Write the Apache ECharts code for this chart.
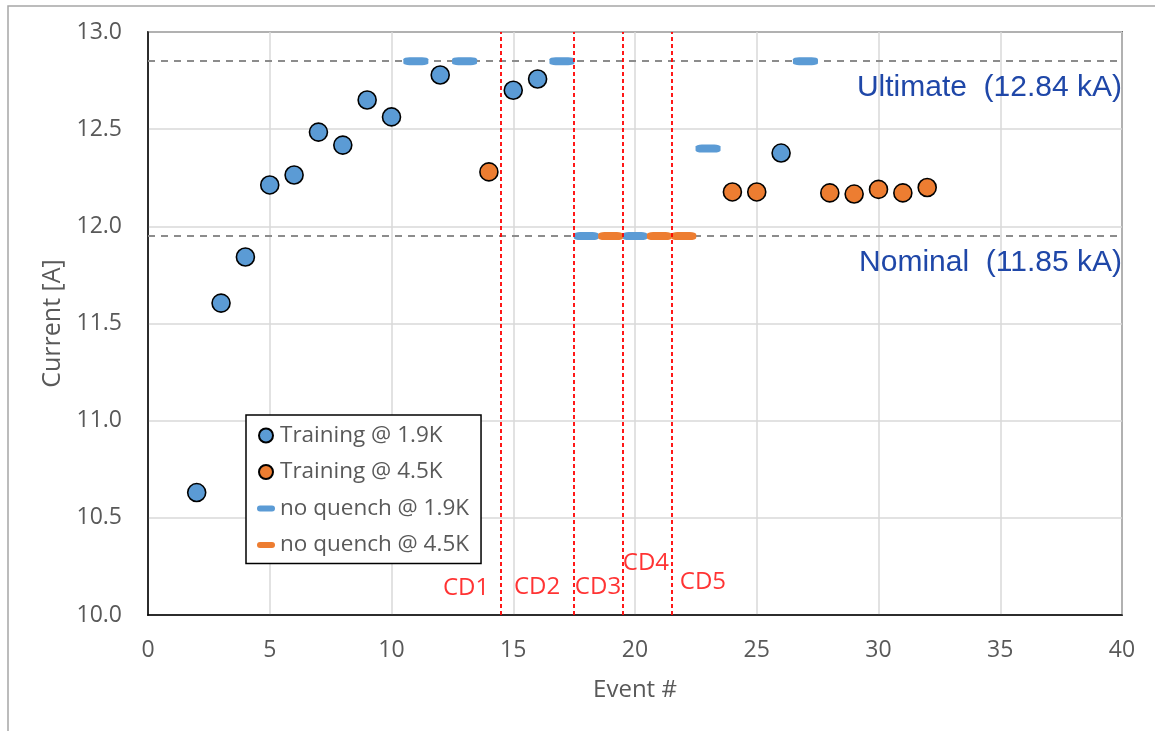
<!DOCTYPE html>
<html>
<head>
<meta charset="utf-8">
<script src="https://cdn.jsdelivr.net/npm/echarts@6/dist/echarts.min.js"></script>
<style>
html,body{margin:0;padding:0;background:#fff;}
#chart{width:1155px;height:731px;}
</style>
</head>
<body>
<div id="chart"></div>
<script>
// ---- data ----
const training19 = [[2,10.63],[3,11.605],[4,11.842],[5,12.213],[6,12.264],[7,12.485],[8,12.418],[9,12.65],[10,12.563],[12,12.779],[15,12.70],[16,12.758],[26,12.377]];
const training45 = [[14,12.28],[24,12.177],[25,12.177],[28,12.172],[29,12.166],[30,12.19],[31,12.172],[32,12.20]];
const noQuench19 = [[11,12.85],[13,12.85],[17,12.85],[18,11.95],[20,11.95],[23,12.40],[27,12.85]];
const noQuench45 = [[19,11.95],[21,11.95],[22,11.95]];
const refLines = [{name:'Ultimate (12.84 kA)', value:12.85},{name:'Nominal (11.85 kA)', value:11.95}];
const cdLines = [14.5, 17.5, 19.5, 21.5];
const cdLabels = [['CD1',13.06,10.138],['CD2',15.98,10.143],['CD3',18.48,10.143],['CD4',20.45,10.267],['CD5',22.79,10.17]];
const xTicks = {min:0, max:40, interval:5};
const yTicks = {min:10, max:13, interval:0.5};

const BLUE = '#5B9BD5', ORANGE = '#ED7D31', GRAY = '#595959';
const FONT = '"Open Sans", "Noto Sans", sans-serif';

const chart = echarts.init(document.getElementById('chart'), null, {renderer:'canvas'});
const dashIcon = 'path://M3,0 H15 A3,3 0 0 1 15,6 H3 A3,3 0 0 1 3,0 Z';

chart.setOption({
  animation:false,
  backgroundColor:'#fff',
  graphic:[{type:'rect', shape:{x:8,y:6,width:1200,height:760}, style:{fill:'none', stroke:'#a6a6a6', lineWidth:1.5}, silent:true, z:-10}],
  grid:{left:148, right:33, top:32, bottom:116, show:true, borderColor:'#000', borderWidth:1.5, backgroundColor:'transparent'},
  legend:{
    orient:'vertical', left:246, top:415,
    backgroundColor:'#fff', borderColor:'#000', borderWidth:1.5, borderRadius:0,
    padding:[9,12,7,11],
    itemWidth:18, itemHeight:14, itemGap:13.5,
    textStyle:{fontFamily:FONT, fontSize:22.5, color:GRAY, lineHeight:22},
    data:[
      {name:'Training @ 1.9K', icon:'circle'},
      {name:'Training @ 4.5K', icon:'circle'},
      {name:'no quench @ 1.9K', icon:dashIcon},
      {name:'no quench @ 4.5K', icon:dashIcon}
    ]
  },
  xAxis:{
    type:'value', min:xTicks.min, max:xTicks.max, interval:xTicks.interval,
    name:'Event #', nameLocation:'middle', nameGap:63,
    nameTextStyle:{fontFamily:FONT, fontSize:24, color:GRAY},
    axisLine:{show:true, onZero:false, lineStyle:{color:'#000', width:1.5}},
    axisTick:{show:false},
    axisLabel:{fontFamily:FONT, fontSize:23, color:GRAY, margin:24},
    splitLine:{show:true, lineStyle:{color:'#d9d9d9', width:1.5}}
  },
  yAxis:{
    type:'value', min:yTicks.min, max:yTicks.max, interval:yTicks.interval,
    name:'Current [A]', nameLocation:'middle', nameGap:77,
    nameTextStyle:{fontFamily:FONT, fontSize:25, color:GRAY},
    axisLine:{show:true, onZero:false, lineStyle:{color:'#000', width:1.5}},
    axisTick:{show:false},
    axisLabel:{fontFamily:FONT, fontSize:23, color:GRAY, margin:26, formatter:v=>v.toFixed(1)},
    splitLine:{show:true, lineStyle:{color:'#d9d9d9', width:1.5}}
  },
  series:[
    {
      name:'refs', type:'scatter', data:[], silent:true, z:1,
      markLine:{
        silent:true, symbol:'none', animation:false, z:1,
        lineStyle:{color:'#8c8c8c', type:[7,6], width:1.8},
        label:{show:true, position:'insideEndBottom', distance:[0,12], formatter:p=>p.name.replace(' (','  ('),
          fontFamily:'"Liberation Sans", Arial, sans-serif', fontSize:30, color:'#1F47A8'},
        data: refLines.map(r=>({name:r.name, yAxis:r.value}))
      }
    },
    {
      name:'cd', type:'scatter', data:[], silent:true, z:6,
      markLine:{
        silent:true, symbol:'none', animation:false, z:6,
        lineStyle:{color:'#FF0000', type:[4,3], width:1.8},
        label:{show:false},
        data: cdLines.map(v=>({xAxis:v}))
      }
    },
    {
      name:'cdlabels', type:'scatter', silent:true, symbolSize:0, z:3,
      data: cdLabels.map(d=>({name:d[0], value:[d[1],d[2]]})),
      label:{show:true, position:'inside', formatter:p=>p.name, fontFamily:FONT, fontSize:24, color:'#FF0000'}
    },
    {
      name:'no quench @ 1.9K', type:'scatter', data:noQuench19, symbol:'roundRect', symbolSize:[25,8], z:4,
      itemStyle:{color:BLUE, opacity:1}
    },
    {
      name:'no quench @ 4.5K', type:'scatter', data:noQuench45, symbol:'roundRect', symbolSize:[25,8], z:4,
      itemStyle:{color:ORANGE, opacity:1}
    },
    {
      name:'Training @ 1.9K', type:'scatter', data:training19, symbol:'circle', symbolSize:18, z:7,
      itemStyle:{color:BLUE, borderColor:'#000', borderWidth:1.6, opacity:1}
    },
    {
      name:'Training @ 4.5K', type:'scatter', data:training45, symbol:'circle', symbolSize:18, z:7,
      itemStyle:{color:ORANGE, borderColor:'#000', borderWidth:1.6, opacity:1}
    }
  ]
});
</script>
</body>
</html>
